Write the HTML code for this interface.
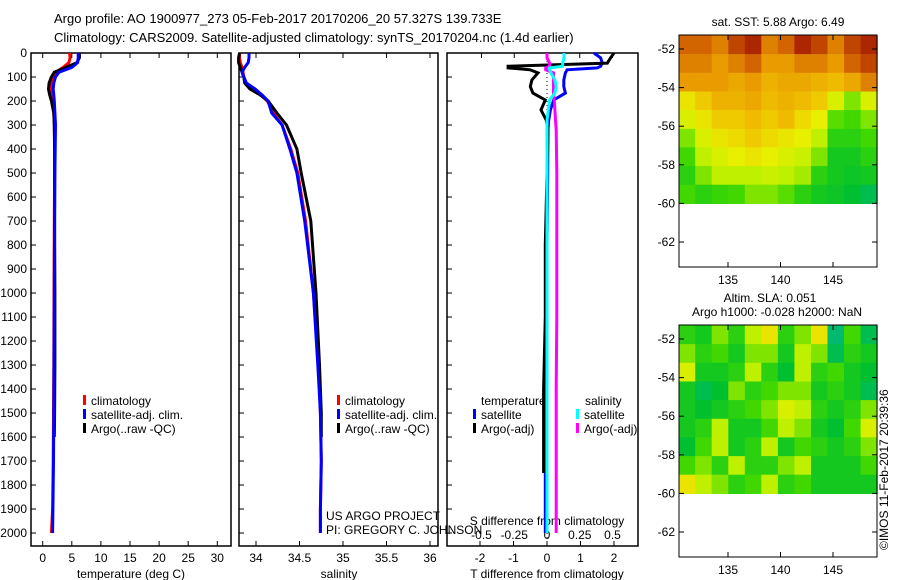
<!DOCTYPE html>
<html><head><meta charset="utf-8"><style>
body{margin:0;background:#fff;}
svg{display:block;font-family:"Liberation Sans",sans-serif;font-size:12px;}
</style></head><body>
<svg id="fig" width="900" height="580" viewBox="0 0 900 580" xmlns="http://www.w3.org/2000/svg">
<text x="54" y="23" font-size="13">Argo profile: AO 1900977_273 05-Feb-2017 20170206_20 57.327S 139.733E</text>
<text x="54" y="42" font-size="13">Climatology: CARS2009. Satellite-adjusted climatology: synTS_20170204.nc (1.4d earlier)</text>
<g id="g"></g>
<text x="778" y="26" text-anchor="middle">sat. SST: 5.88 Argo: 6.49</text>
<text x="770" y="302" text-anchor="middle">Altim. SLA: 0.051</text>
<text x="777" y="316" text-anchor="middle">Argo h1000: -0.028 h2000: NaN</text>
<text transform="translate(888,550) rotate(-90)" x="0" y="0">©IMOS 11-Feb-2017 20:39:36</text>
<text x="326" y="520">US ARGO PROJECT</text>
<text x="326" y="534">PI: GREGORY C. JOHNSON</text>
</svg>
<script>
// ---- data ----
const depths = [0,20,40,60,80,100,125,150,175,200,250,300,400,500,700,1000,1300,1500,1700,1900,2000];
const tempClim = [4.6,4.7,4.5,3.5,2.3,1.8,1.5,1.4,1.5,1.6,1.9,2.0,2.05,2.05,2.0,1.95,1.9,1.85,1.8,1.7,1.5];
const tempSat  = [6.1,6.1,6.0,5.0,2.8,2.2,1.9,1.8,1.9,2.0,2.1,2.2,2.15,2.1,2.05,2.0,1.95,1.9,1.85,1.75,1.7];
const argoDepths = [0,20,40,60,80,100,125,150,175,200,250,300,400,500,700,1000,1300,1500,1600];
const tempArgo = [6.3,6.3,5.9,4.0,2.0,1.5,1.1,1.0,1.2,1.5,1.9,2.0,2.05,2.05,2.05,2.1,2.1,2.05,2.0];
const salClim = [33.81,33.81,33.82,33.84,33.85,33.86,33.88,33.96,34.06,34.13,34.2,34.3,34.4,34.48,34.57,34.66,34.72,34.74,34.75,34.74,34.74];
const salSat  = [33.92,33.92,33.91,33.87,33.84,33.86,33.89,33.99,34.07,34.14,34.18,34.3,34.39,34.47,34.56,34.66,34.71,34.74,34.75,34.74,34.74];
const salArgo = [33.81,33.8,33.8,33.82,33.84,33.86,33.87,33.93,34.05,34.14,34.24,34.35,34.47,34.52,34.63,34.69,34.73,34.75,34.75];
const dDepthsT = [0,20,42,55,62,70,83,112,140,167,196,237,280,320,500,800,1100,1400,1750];
const dTArgo = [2.0,1.9,1.8,-1.16,-1.16,-0.5,-0.27,-0.45,-0.5,-0.42,-0.05,-0.18,-0.02,0.03,0.0,-0.05,-0.05,-0.1,-0.1];
const dDepthsS = [0,20,42,55,62,70,83,112,140,167,196,237,280,320,500,800,1100,1400,1750,2000];
const dTSat = [1.4,1.6,1.65,1.6,1.5,0.6,0.55,0.5,0.5,0.55,0.2,0.1,0.05,0.03,0.02,0.0,-0.02,-0.05,-0.05,-0.05];
const dSArgo = [0.0,0.0,0.02,0.02,-0.01,-0.01,0.05,0.05,0.05,0.05,0.055,0.06,0.065,0.07,0.075,0.075,0.075,0.07,0.07,0.07];
const dSSat = [0.13,0.13,0.12,0.12,0.02,0.02,0.03,0.06,0.07,0.06,0.02,0.01,0.0,0.0,0.0,0.0,0.0,0.0,0.0,0.0];
const depthTicks = [0,100,200,300,400,500,600,700,800,900,1000,1100,1200,1300,1400,1500,1600,1700,1800,1900,2000];
const tempTicks = [0,5,10,15,20,25,30];
const salTicks = [34,34.5,35,35.5,36];
const tdTicks = [-2,-1,0,1,2];
const sdTicks = [-0.5,-0.25,0,0.25,0.5];
const latTicks = [-52,-54,-56,-58,-60,-62];
const lonTicks = [135,140,145];
const sstGrid = [
[.85,.85,.8,.9,.95,.8,.85,.95,.9,.8,.9,.95],
[.8,.8,.75,.8,.85,.75,.75,.8,.8,.75,.85,.9],
[.75,.75,.75,.72,.75,.7,.72,.72,.7,.68,.72,.8],
[.6,.65,.7,.7,.72,.68,.7,.68,.65,.55,.45,.55],
[.55,.6,.65,.65,.68,.65,.68,.62,.58,.42,.4,.45],
[.45,.55,.6,.62,.65,.62,.6,.58,.5,.35,.35,.4],
[.4,.5,.55,.58,.6,.58,.55,.52,.45,.3,.3,.35],
[.35,.45,.5,.5,.5,.52,.5,.48,.35,.3,.28,.3],
[.4,.35,.38,.4,.45,.45,.42,.35,.3,.28,.25,.2]];
const slaGrid = [
[.35,.3,.45,.35,.5,.6,.35,.45,.6,.15,.4,.2],
[.45,.35,.4,.3,.45,.45,.3,.5,.45,.2,.35,.3],
[.55,.3,.3,.35,.5,.35,.25,.5,.35,.4,.3,.25],
[.3,.2,.25,.45,.35,.4,.45,.45,.3,.35,.3,.2],
[.3,.25,.3,.35,.4,.45,.55,.5,.35,.3,.35,.45],
[.3,.35,.5,.3,.3,.4,.5,.45,.3,.25,.4,.55],
[.25,.4,.5,.3,.35,.5,.3,.4,.35,.3,.35,.45],
[.4,.45,.35,.5,.35,.35,.45,.5,.3,.3,.3,.4],
[.6,.5,.45,.35,.4,.5,.35,.4,.3,.3,.3,.3]];

// ---- drawing ----
const NS='http://www.w3.org/2000/svg';
const G=document.getElementById('g');
function mk(tag,attrs,parent){const e=document.createElementNS(NS,tag);for(const k in attrs)e.setAttribute(k,attrs[k]);(parent||G).appendChild(e);return e;}
const yD=d=>53+d*0.24;
const PB=546;

function frame(x0,x1,name){
  const r=mk('rect',{x:x0,y:53,width:x1-x0,height:PB-53,fill:'none',stroke:'#000','stroke-width':1.5});
  
  
  depthTicks.forEach(d=>{mk('line',{x1:x0,x2:x0+5,y1:yD(d),y2:yD(d),stroke:'#000'});});
}
function line(xs,ds,fx,color,name){
  const p=xs.map((v,i)=>fx(v).toFixed(1)+','+yD(ds[i]).toFixed(1)).join(' ');
  const e=mk('polyline',{points:p,fill:'none',stroke:color,'stroke-width':3,'stroke-linejoin':'miter'});
  
  
  return e;
}
function txt(x,y,s,anchor,name){const t=mk('text',{x:x,y:y,'text-anchor':anchor||'start'});t.textContent=s;
  
  return t;}
function legend(x,y,color,s,name){mk('rect',{x:x,y:y-10,width:3,height:10,fill:color});txt(x+8,y,s,'start',name);}

// panel 1 temperature
const xT=v=>42.7+v*5.82;
frame(31,231,'temperature-panel');
depthTicks.forEach(d=>txt(27,yD(d)+4,String(d),'end','depth-tick-label'));
tempTicks.forEach(t=>{mk('line',{x1:xT(t),x2:xT(t),y1:PB,y2:PB-5,stroke:'#000'});mk('line',{x1:xT(t),x2:xT(t),y1:53,y2:58,stroke:'#000'});txt(xT(t),562,String(t),'middle','temperature-tick-label');});
txt(131,578,'temperature (deg C)','middle','temperature-axis-title');
line(tempClim,depths,xT,'#f00','temp-climatology-line');
line(tempArgo,argoDepths,xT,'#000','temp-argo-line');
line(tempSat,depths,xT,'#00f','temp-satellite-line');
legend(83,405,'#f00','climatology','legend-climatology');
legend(83,419,'#00f','satellite-adj. clim.','legend-satellite');
legend(83,433,'#000','Argo(..raw -QC)','legend-argo');

// panel 2 salinity
const xS=v=>256+(v-34)*87;
frame(239,438,'salinity-panel');
salTicks.forEach(t=>{mk('line',{x1:xS(t),x2:xS(t),y1:PB,y2:PB-5,stroke:'#000'});mk('line',{x1:xS(t),x2:xS(t),y1:53,y2:58,stroke:'#000'});txt(xS(t),562,String(t),'middle','salinity-tick-label');});
txt(339,578,'salinity','middle','salinity-axis-title');
line(salClim,depths,xS,'#f00','sal-climatology-line');
line(salArgo,argoDepths,xS,'#000','sal-argo-line');
line(salSat,depths,xS,'#00f','sal-satellite-line');
legend(337,405,'#f00','climatology','legend2-climatology');
legend(337,419,'#00f','satellite-adj. clim.','legend2-satellite');
legend(337,433,'#000','Argo(..raw -QC)','legend2-argo');

// panel 3 differences
const xTD=v=>547+v*33.5;
const xSD=v=>547+v*131;
frame(447,638,'difference-panel');
tdTicks.forEach(t=>{mk('line',{x1:xTD(t),x2:xTD(t),y1:PB,y2:PB-5,stroke:'#000'});txt(xTD(t),562,String(t),'middle','tdiff-tick-label');});
sdTicks.forEach(t=>{mk('line',{x1:xSD(t),x2:xSD(t),y1:53,y2:58,stroke:'#000'});txt(xSD(t),539,String(t),'middle','sdiff-tick-label');});
txt(547,525,'S difference from climatology','middle','sdiff-axis-title');
txt(547,578,'T difference from climatology','middle','tdiff-axis-title');
const zl=mk('line',{x1:xTD(0),x2:xTD(0),y1:53,y2:PB,stroke:'#000','stroke-width':1,'stroke-dasharray':'1,3'});


line(dTSat,dDepthsS,xTD,'#00f','tdiff-satellite-line');
line(dTArgo,dDepthsT,xTD,'#000','tdiff-argo-line');
line(dSArgo,dDepthsS,xSD,'#f0f','sdiff-argo-line');
line(dSSat,dDepthsS,xSD,'#0ff','sdiff-satellite-line');
txt(481,405,'temperature','start','legend3-temperature-header');
legend(473,419,'#00f','satellite','legend3-t-satellite');
legend(473,433,'#000','Argo(-adj)','legend3-t-argo');
txt(585,405,'salinity','start','legend3-salinity-header');
legend(576,419,'#0ff','satellite','legend3-s-satellite');
legend(576,433,'#f0f','Argo(-adj)','legend3-s-argo');

// maps
const stops=[[0,[0,176,208]],[0.25,[0,192,48]],[0.4,[64,216,0]],[0.5,[190,240,0]],[0.58,[232,240,0]],[0.66,[240,196,0]],[0.76,[232,150,0]],[0.86,[208,96,0]],[0.96,[168,32,0]],[1,[150,20,0]]];
function cmap(v){for(let i=1;i<stops.length;i++){if(v<=stops[i][0]){const a=stops[i-1],b=stops[i],f=(v-a[0])/(b[0]-a[0]);return 'rgb('+a[1].map((c,k)=>Math.round(c+(b[1][k]-c)*f)).join(',')+')';}}return 'rgb(150,20,0)';}
function map(oy,grid,name){
  const lonX=l=>728+(l-135)*10.5, latY=a=>oy+49+(-52-a)*19.3;
  const lon0=130.3,lon1=149.2,lat0=-51.3,lat1=-60;
  const nr=grid.length,nc=grid[0].length;
  grid.forEach((row,r)=>row.forEach((v,c)=>{
    const la=lon0+(lon1-lon0)*c/nc, lb=lon0+(lon1-lon0)*(c+1)/nc;
    const ta=lat0+(lat1-lat0)*r/nr, tb=lat0+(lat1-lat0)*(r+1)/nr;
    const cell=mk('rect',{x:lonX(la).toFixed(1),y:latY(ta).toFixed(1),width:(lonX(lb)-lonX(la)+0.6).toFixed(1),height:(latY(tb)-latY(ta)+0.6).toFixed(1),fill:cmap(v)});
    
    
  }));
  const f=mk('rect',{x:679,y:oy+35,width:198,height:232,fill:'none',stroke:'#000','stroke-width':1});
  
  
  latTicks.forEach(a=>{mk('line',{x1:679,x2:684,y1:latY(a),y2:latY(a),stroke:'#000'});mk('line',{x1:877,x2:872,y1:latY(a),y2:latY(a),stroke:'#000'});txt(675,latY(a)+4,String(a),'end',name+'-lat-label');});
  lonTicks.forEach(l=>{mk('line',{x1:lonX(l),x2:lonX(l),y1:oy+267,y2:oy+262,stroke:'#000'});mk('line',{x1:lonX(l),x2:lonX(l),y1:oy+35,y2:oy+40,stroke:'#000'});txt(lonX(l),oy+284,String(l),'middle',name+'-lon-label');});
}
map(0,sstGrid,'sst-map');
map(290,slaGrid,'sla-map');
</script>
</body></html>
